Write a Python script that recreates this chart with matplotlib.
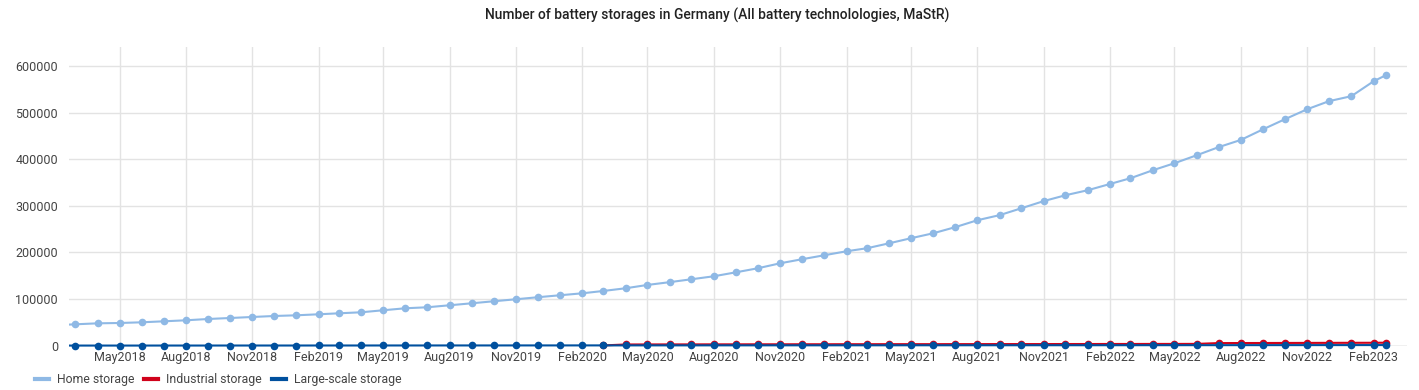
import matplotlib
matplotlib.use("Agg")
import matplotlib.pyplot as plt
import matplotlib.dates as mdates
from matplotlib.lines import Line2D
from matplotlib.patches import Rectangle
import numpy as np
import pandas as pd

plt.rcParams['font.family'] = ['Roboto', 'DejaVu Sans']

# ---- data ----
month_starts = list(pd.date_range("2018-02-01", "2023-02-01", freq="MS"))
dates = month_starts + [pd.Timestamp("2023-02-18")]

home_storage = [
    44000,
    45900, 48000, 48700, 50200, 52300, 54500, 57300, 59400, 61600, 63700,
    65200, 67400, 69500, 71700, 76000, 80300, 82400, 86700, 91000, 95300, 99600, 103900,
    108200, 112400, 117400, 123200, 130300, 136300, 142500, 148900, 157500, 166100, 176800, 185400,
    194000, 202600, 209000, 219700, 230500, 241200, 254100, 269100, 280100, 294800, 310200, 322700,
    333500, 347000, 359200, 376300, 391400, 408600, 425800, 441400, 464400, 485800, 507300, 524500,
    535200, 567400, 580300,
]

nan = np.nan
industrial_storage = [
    nan,
    nan, nan, nan, nan, nan, nan, nan, nan, nan, nan,
    nan, nan, nan, nan, nan, nan, nan, nan, nan, nan, nan, nan,
    nan, nan, 600, 2600, 2700, 2800, 2800, 2900, 2900, 3000, 3000, 3100,
    3100, 3200, 3200, 3300, 3300, 3300, 3400, 3400, 3500, 3500, 3500, 3600,
    3600, 3700, 3700, 3800, 3800, 3900, 5600, 5700, 5800, 5900, 6000, 6100,
    6200, 6300, 6400,
]

large_scale_storage = [
    300,
    300, 300, 300, 300, 350, 350, 350, 400, 400, 400,
    400, 450, 450, 450, 500, 500, 500, 550, 550, 550, 600, 600,
    600, 650, 650, 650, 700, 700, 700, 750, 750, 750, 800, 800,
    800, 850, 850, 850, 900, 900, 900, 950, 950, 950, 1000, 1000,
    1000, 1050, 1050, 1100, 1100, 1150, 1150, 1200, 1200, 1250, 1250, 1300,
    1300, 1350, 1350,
]

series_names = ["Home storage", "Industrial storage", "Large-scale storage"]
series_colors = ["#8fb9e5", "#d0021b", "#00509e"]

title = "Number of battery storages in Germany (All battery technolologies, MaStR)"

# ---- plot ----
fig = plt.figure(figsize=(14.19, 3.90), dpi=100)
ax = fig.add_axes([69/1419, 1-345.7/390, (1407-69)/1419, (345.7-47.3)/390])

clip = Rectangle((0, -0.05), 1, 1.1, transform=ax.transAxes, visible=False)
ax.add_patch(clip)

for vals, name, col, z in zip([home_storage, industrial_storage, large_scale_storage],
                              series_names, series_colors, [3, 4, 5]):
    ln, = ax.plot(dates, vals, color=col, lw=1.5, marker='o', markersize=5.5,
                  markeredgewidth=0, label=name, zorder=z)
    ln.set_clip_path(clip)

ax.set_xlim(pd.Timestamp("2018-02-20"), pd.Timestamp("2023-03-19"))
ax.set_ylim(0, 640000)
ax.set_yticks(np.arange(0, 600001, 100000))
ax.yaxis.set_major_formatter(matplotlib.ticker.FuncFormatter(lambda v, p: f"{int(v)}"))
ax.xaxis.set_major_locator(mdates.MonthLocator(bymonth=[2, 5, 8, 11]))
ax.xaxis.set_major_formatter(mdates.DateFormatter("%b%Y"))

ax.grid(True, color="#e3e3e3", lw=1)
ax.set_axisbelow(True)
for s in ax.spines.values():
    s.set_visible(False)
ax.tick_params(length=0, labelsize=9, colors="#444444", pad=4)
ax.tick_params(axis='y', pad=8)
ax.axhline(0, color="#cccccc", lw=1, zorder=1)

fig.text(717/1419, 1-15/390, title, ha='center', va='center', fontsize=10,
         color="#222222", fontweight='medium')

handles = [Line2D([0], [0], color=c, lw=3) for c in series_colors]
fig.legend(handles, series_names, loc='center left', bbox_to_anchor=(35/1419, 1-380/390),
           frameon=False, fontsize=8.8, handlelength=1.15, handletextpad=0.65,
           columnspacing=0.8, ncol=3, labelcolor="#444444", borderpad=0, borderaxespad=0)

fig.savefig("out.png", dpi=100)
